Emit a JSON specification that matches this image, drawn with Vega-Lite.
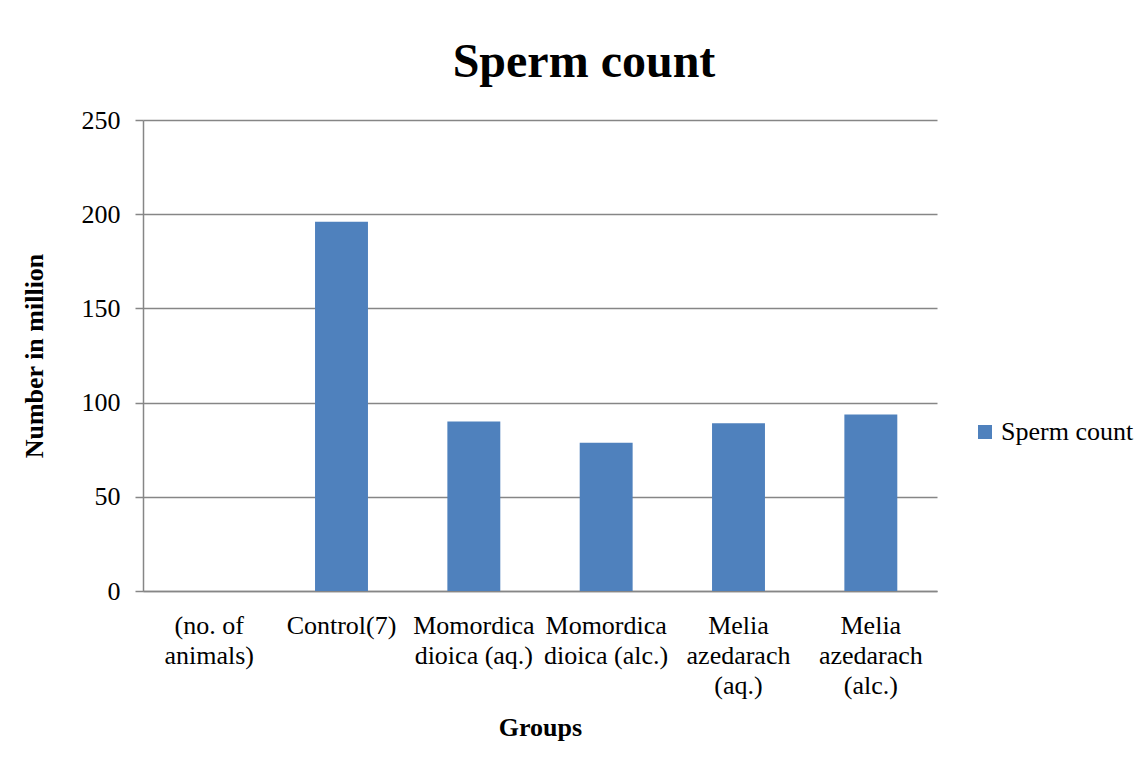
{
  "$schema": "https://vega.github.io/schema/vega-lite/v6.json",
  "width": 794,
  "height": 471,
  "padding": {"left": 21, "top": 39, "right": 5, "bottom": 5},
  "background": "white",
  "title": {
    "text": "Sperm count",
    "font": "Liberation Serif",
    "fontSize": 48,
    "fontWeight": "bold",
    "color": "black",
    "anchor": "middle",
    "dx": 44,
    "offset": 20
  },
  "data": {
    "values": [
      {"group": "(no. of|animals)", "value": null, "series": "Sperm count"},
      {"group": "Control(7)", "value": 196, "series": "Sperm count"},
      {"group": "Momordica|dioica (aq.)", "value": 90, "series": "Sperm count"},
      {"group": "Momordica|dioica (alc.)", "value": 78.7, "series": "Sperm count"},
      {"group": "Melia|azedarach|(aq.)", "value": 89, "series": "Sperm count"},
      {"group": "Melia|azedarach|(alc.)", "value": 93.7, "series": "Sperm count"}
    ]
  },
  "mark": {"type": "bar"},
  "encoding": {
    "x": {
      "field": "group",
      "type": "nominal",
      "sort": null,
      "scale": {
        "domain": ["(no. of|animals)", "Control(7)", "Momordica|dioica (aq.)", "Momordica|dioica (alc.)", "Melia|azedarach|(aq.)", "Melia|azedarach|(alc.)"],
        "paddingInner": 0.6,
        "paddingOuter": 0.3
      },
      "axis": {
        "title": "Groups",
        "labelExpr": "split(datum.label, '|')",
        "labelAngle": 0,
        "labelBaseline": "top",
        "labelLineHeight": 30,
        "labelPadding": 21,
        "ticks": false,
        "domainColor": "#868686",
        "domainWidth": 1.5,
        "labelFont": "Liberation Serif",
        "labelFontSize": 26,
        "labelColor": "black",
        "titleFont": "Liberation Serif",
        "titleFontSize": 26,
        "titleFontWeight": "bold",
        "titleColor": "black",
        "titlePadding": 16,
        "grid": false
      }
    },
    "y": {
      "field": "value",
      "type": "quantitative",
      "scale": {"domain": [0, 250]},
      "axis": {
        "title": "Number in million",
        "values": [0, 50, 100, 150, 200, 250],
        "tickSize": 8,
        "tickColor": "#868686",
        "tickWidth": 1.5,
        "domainColor": "#868686",
        "domainWidth": 1.5,
        "gridColor": "#868686",
        "gridWidth": 1.5,
        "labelFont": "Liberation Serif",
        "labelFontSize": 26,
        "labelColor": "black",
        "labelPadding": 15,
        "titleFont": "Liberation Serif",
        "titleFontSize": 26,
        "titleFontWeight": "bold",
        "titleColor": "black",
        "titlePadding": 34
      }
    },
    "color": {
      "field": "series",
      "type": "nominal",
      "scale": {"range": ["#4F81BD"]},
      "legend": {
        "title": null,
        "orient": "none",
        "legendX": 829,
        "legendY": 299,
        "symbolType": "square",
        "symbolSize": 196,
        "symbolStrokeWidth": 0,
        "labelOffset": 3,
        "labelFont": "Liberation Serif",
        "labelFontSize": 26,
        "labelColor": "black",
        "padding": 0
      }
    }
  },
  "config": {"view": {"stroke": null}}
}
